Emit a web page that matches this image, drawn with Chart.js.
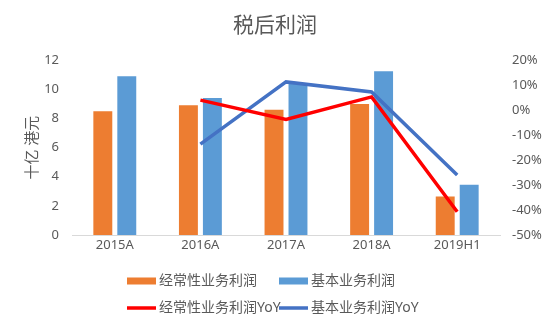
<!DOCTYPE html>
<html>
<head>
<meta charset="utf-8">
<script src="https://cdn.jsdelivr.net/npm/chart.js@4"></script>
<style>
  body { margin: 0; background: #fff; }
  #wrap { width: 550px; height: 330px; }
</style>
</head>
<body>
<div id="wrap"><canvas id="grafico" width="550" height="330"></canvas></div>
<script>
// DATOS DEL GRAFICO
const categorias = ['2015A', '2016A', '2017A', '2018A', '2019H1'];
const utilidadRecurrente = [8.5, 8.9, 8.6, 9.0, 2.65]; // 十亿 港元
const utilidadBasica = [10.9, 9.4, 10.4, 11.25, 3.45];
const recurrenteYoY = [null, 4.0, -3.7, 5.3, -40.7]; // %
const basicaYoY = [null, -13.6, 11.3, 7.3, -26.0];
const ticksIzq = [0, 2, 4, 6, 8, 10, 12];
const ticksDer = [-50, -40, -30, -20, -10, 0, 10, 20];

const gris = '#595959';
const fuente = "'Noto Sans', 'Noto Sans CJK SC', sans-serif";

// leyenda en dos filas como la de excel (columnas fijas)
const leyendaExcel = {
    id: 'leyendaExcel',
    afterDraw(chart) {
        const c = chart.ctx;
        const colX = [127, 279];
        const filaY = [281, 308];
        // orden de la leyenda: barras arriba, lineas abajo
        const orden = [2, 3, 0, 1];
        c.save();
        c.font = '14px ' + fuente;
        c.fillStyle = gris;
        c.textBaseline = 'middle';
        orden.forEach((idx, i) => {
            const ds = chart.data.datasets[idx];
            const x = colX[i % 2];
            const y = filaY[Math.floor(i / 2)];
            const alto = ds.type === 'line' ? 3.5 : 7;
            c.fillStyle = ds.type === 'line' ? ds.borderColor : ds.backgroundColor;
            c.fillRect(x, y - alto / 2, 29, alto);
            c.fillStyle = gris;
            c.fillText(ds.label, x + 32, y);
        });
        c.restore();
    }
};

const data = {
    labels: categorias,
    datasets: [
        {
            type: 'line',
            label: '经常性业务利润YoY',
            data: recurrenteYoY,
            yAxisID: 'yDer',
            borderColor: '#FF0000',
            backgroundColor: '#FF0000',
            borderWidth: 3.5,
            pointRadius: 0,
            tension: 0,
            order: 1
        },
        {
            type: 'line',
            label: '基本业务利润YoY',
            data: basicaYoY,
            yAxisID: 'yDer',
            borderColor: '#4472C4',
            backgroundColor: '#4472C4',
            borderWidth: 3.5,
            pointRadius: 0,
            tension: 0,
            order: 1
        },
        {
            type: 'bar',
            label: '经常性业务利润',
            data: utilidadRecurrente,
            yAxisID: 'yIzq',
            backgroundColor: '#ED7D31',
            categoryPercentage: 0.56,
            barPercentage: 0.79,
            order: 2
        },
        {
            type: 'bar',
            label: '基本业务利润',
            data: utilidadBasica,
            yAxisID: 'yIzq',
            backgroundColor: '#5B9BD5',
            categoryPercentage: 0.56,
            barPercentage: 0.79,
            order: 2
        }
    ]
};

const grafico = new Chart(document.getElementById('grafico'), {
    data: data,
    plugins: [leyendaExcel],
    options: {
        responsive: false,
        animation: false,
        layout: { padding: { left: 0, right: 0, top: 0, bottom: 70 } },
        plugins: {
            legend: { display: false },
            tooltip: { enabled: false },
            title: {
                display: true,
                text: '税后利润',
                color: gris,
                font: { family: fuente, size: 21, weight: 'normal' },
                padding: { top: 13, bottom: 22 }
            }
        },
        scales: {
            x: {
                offset: true,
                grid: { display: false, drawTicks: false },
                border: { display: true, color: '#D9D9D9', width: 1 },
                ticks: { color: gris, font: { family: fuente, size: 13 }, padding: 2 },
                afterFit(scale) { scale.height = 25; }
            },
            yIzq: {
                position: 'left',
                min: 0,
                max: 12,
                afterBuildTicks(scale) { scale.ticks = ticksIzq.map(v => ({ value: v })); },
                grid: { display: false, drawTicks: false },
                border: { display: false },
                ticks: { color: gris, font: { family: fuente, size: 13 }, padding: 13 },
                title: {
                    display: true,
                    text: '十亿 港元',
                    color: gris,
                    font: { family: fuente, size: 15 },
                    padding: { top: 24, bottom: 0 }
                },
                afterFit(scale) { scale.width = 72; }
            },
            yDer: {
                position: 'right',
                min: -50,
                max: 20,
                afterBuildTicks(scale) { scale.ticks = ticksDer.map(v => ({ value: v })); },
                grid: { display: false, drawTicks: false },
                border: { display: false },
                ticks: {
                    color: gris,
                    font: { family: fuente, size: 13 },
                    padding: 12,
                    callback: (v) => v + '%'
                },
                afterFit(scale) { scale.width = 50; }
            }
        }
    }
});
</script>
</body>
</html>
